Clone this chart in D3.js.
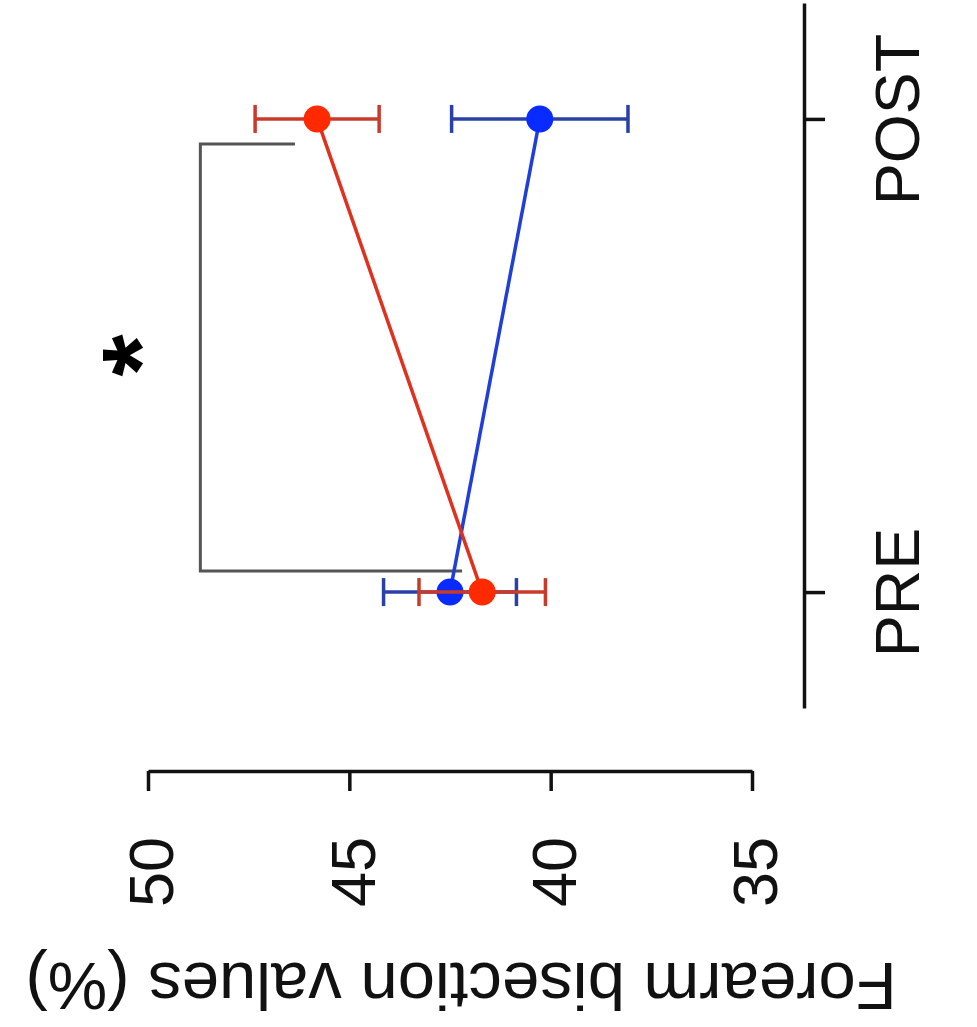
<!DOCTYPE html>
<html>
<head>
<meta charset="utf-8">
<script src="https://cdn.jsdelivr.net/npm/d3@7/dist/d3.min.js"></script>
<style>
  html, body { margin: 0; padding: 0; background: #fff; }
  svg { display: block; font-family: "Liberation Sans", Arial, Helvetica, sans-serif; }
</style>
</head>
<body>
<svg id="chart" width="977" height="1027"></svg>
<script>
// ---- data ----
const categories = ["PRE", "POST"];
const redMeans = [41.7, 45.8];
const redErr = [1.57, 1.54];
const blueMeans = [42.5, 40.27];
const blueErr = [1.65, 2.19];
const valueTicks = [50, 45, 40, 35];
const axisTitle = "Forearm bisection values (%)";
const bracketLevel = 48.7;          // value where the bracket's spine sits
const bracketEnds = [42.2, 46.35];  // arm ends at PRE and POST
const sigLabel = "*";

// ---- scales ----
const svg = d3.select("#chart");
svg.append("rect").attr("width", 977).attr("height", 1027).attr("fill", "#fff");

const x = d3.scaleLinear().domain([50, 35]).range([148, 752]);     // value axis (horizontal)
const y = d3.scaleLinear().domain([-0.245, 1.245]).range([708, 3]); // category index (vertical)

// ---- value axis ----
const gx = svg.append("g").attr("transform", "translate(0,771)")
  .call(d3.axisBottom(x).tickValues(valueTicks).tickSize(20).tickSizeOuter(0).tickFormat(d3.format("d")));
gx.select(".domain").attr("stroke", "#111").attr("stroke-width", 3.5);
gx.selectAll(".tick line").attr("stroke", "#111").attr("stroke-width", 3.5);
gx.selectAll(".tick text")
  .attr("font-size", 63).attr("fill", "#111")
  .attr("text-anchor", "end")
  .attr("transform", "translate(2,66) rotate(-90)")
  .attr("x", 0).attr("y", 0).attr("dy", "0.36em");

// ---- category axis ----
const gy = svg.append("g").attr("transform", "translate(804,0)")
  .call(d3.axisRight(y).tickValues([0, 1]).tickSize(21).tickSizeOuter(0).tickFormat(i => categories[i]));
gy.select(".domain").attr("stroke", "#111").attr("stroke-width", 3.5);
gy.selectAll(".tick line").attr("stroke", "#111").attr("stroke-width", 3.5);
gy.selectAll(".tick text")
  .attr("font-size", 63).attr("fill", "#111")
  .attr("text-anchor", "middle")
  .attr("x", 0).attr("y", 0).attr("dy", 0)
  .attr("transform", "translate(115,0) rotate(-90)");

// ---- axis title ----
svg.append("text")
  .attr("transform", `translate(${(x(50) + x(35)) / 2 + 11},963) rotate(180)`)
  .attr("text-anchor", "middle")
  .attr("font-size", 67).attr("fill", "#111")
  .text(axisTitle);

// ---- significance bracket ----
svg.append("path")
  .attr("d", `M${x(bracketEnds[1])},${y(1) + 25}H${x(bracketLevel)}V${y(0) - 21}H${x(bracketEnds[0])}`)
  .attr("fill", "none").attr("stroke", "#555").attr("stroke-width", 3);

svg.append("text")
  .attr("transform", `translate(${x(50.52) + 50},${y(0.5)}) rotate(-90)`)
  .attr("text-anchor", "middle")
  .attr("font-size", 108).attr("font-weight", "bold").attr("fill", "#000")
  .text(sigLabel);

// ---- series ----
function drawSeries(means, errs, lineColor, errColor) {
  const g = svg.append("g");
  const pts = means.map((m, i) => ({ i, m, e: errs[i] }));
  g.append("path")
    .datum(pts)
    .attr("d", d3.line().x(d => x(d.m)).y(d => y(d.i)))
    .attr("fill", "none").attr("stroke", lineColor).attr("stroke-width", 3.5);
  const eb = g.selectAll(".eb").data(pts).enter().append("g");
  eb.append("line")
    .attr("x1", d => x(d.m + d.e)).attr("x2", d => x(d.m - d.e))
    .attr("y1", d => y(d.i)).attr("y2", d => y(d.i))
    .attr("stroke", errColor).attr("stroke-width", 3.5);
  eb.append("line")
    .attr("x1", d => x(d.m + d.e)).attr("x2", d => x(d.m + d.e))
    .attr("y1", d => y(d.i) - 14).attr("y2", d => y(d.i) + 14)
    .attr("stroke", errColor).attr("stroke-width", 3.5);
  eb.append("line")
    .attr("x1", d => x(d.m - d.e)).attr("x2", d => x(d.m - d.e))
    .attr("y1", d => y(d.i) - 14).attr("y2", d => y(d.i) + 14)
    .attr("stroke", errColor).attr("stroke-width", 3.5);
  return g;
}
const blueG = drawSeries(blueMeans, blueErr, "#1f3fd8", "#2a3fa8");
const redG = drawSeries(redMeans, redErr, "#e0301e", "#c83a2a");

blueG.selectAll(".pt").data(blueMeans).enter().append("circle")
  .attr("cx", d => x(d)).attr("cy", (d, i) => y(i)).attr("r", 13.5).attr("fill", "#0a2bff");
redG.selectAll(".pt").data(redMeans).enter().append("circle")
  .attr("cx", d => x(d)).attr("cy", (d, i) => y(i)).attr("r", 13.5).attr("fill", "#ff2a00");
</script>
</body>
</html>
